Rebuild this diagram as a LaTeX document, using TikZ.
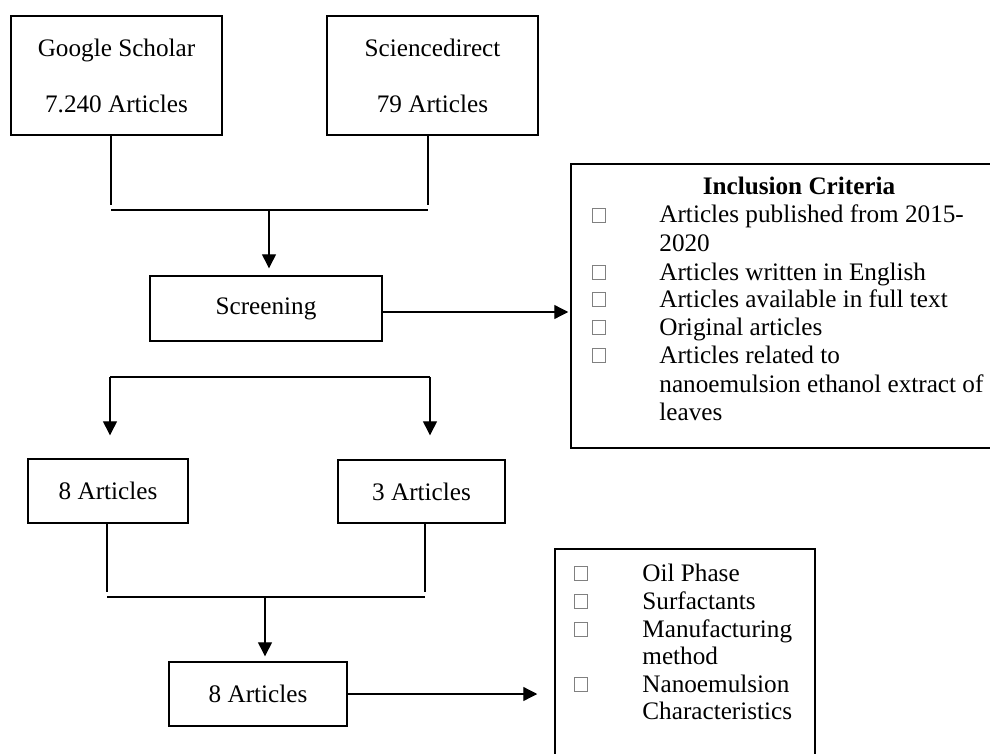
\documentclass[tikz,border=0pt]{standalone}
\usepackage{fontspec}
\setmainfont{Liberation Serif}
\usetikzlibrary{arrows.meta}
\begin{document}
\begin{tikzpicture}[x=0.5pt,y=-0.5pt,
  box/.style={draw, line width=0.7pt, inner sep=0pt, align=center, font=\fontsize{12.6pt}{14pt}\selectfont},
  frame/.style={draw, line width=0.75pt, inner sep=0pt},
  conn/.style={line width=0.65pt},
  arr/.style={conn, -{Triangle[width=7pt,length=7pt]}},
  bul/.style={draw=black!50, line width=0.35pt, inner sep=0pt, minimum width=6.5pt, minimum height=7pt, anchor=south west},
  txt/.style={inner sep=0pt, anchor=base west, font=\fontsize{12.6pt}{14pt}\selectfont}]
\useasboundingbox (0,0) rectangle (990,754);

% boxes
\node[box, minimum width=105.5pt, minimum height=59.5pt] (gs) at (116.5,75.5) {Google Scholar\\[14pt]7.240 Articles};
\node[box, minimum width=105.5pt, minimum height=59.5pt] (sd) at (432.5,75.5) {Sciencedirect\\[14pt]79 Articles};
\node[box, minimum width=116pt, minimum height=32.5pt] (scr) at (266,308.5) {Screening};
\node[box, minimum width=80pt, minimum height=32pt] (a8) at (108,491) {8 Articles};
\node[box, minimum width=83.5pt, minimum height=31.5pt] (a3) at (421.5,491.5) {3 Articles};
\node[box, minimum width=89pt, minimum height=32pt] (f8) at (258,694) {8 Articles};
\node[frame, minimum width=214pt, minimum height=142pt] (inc) at (785,306) {};
\node[frame, minimum width=130pt, minimum height=106pt] (ch) at (685,655) {};

% inclusion criteria text
\node[txt, anchor=base, font=\fontsize{12.6pt}{14pt}\selectfont\bfseries] (ttl) at (799,195) {Inclusion Criteria};
\node[txt] (i1) at (659,223) {Articles published from 2015-};
\node[txt] (i2) at (659,252) {2020};
\node[txt] (i3) at (659,280) {Articles written in English};
\node[txt] (i4) at (659,307) {Articles available in full text};
\node[txt] (i5) at (659,335) {Original articles};
\node[txt] (i6) at (659,363) {Articles related to};
\node[txt] (i7) at (659,392) {nanoemulsion ethanol extract of};
\node[txt] (i8) at (659,420) {leaves};
\node[bul] (ib1) at (592,223) {};
\node[bul] (ib2) at (592,280) {};
\node[bul] (ib3) at (592,307) {};
\node[bul] (ib4) at (592,335) {};
\node[bul] (ib5) at (592,363) {};

% characteristics text
\node[txt] (c1) at (642,581) {Oil Phase};
\node[txt] (c2) at (642,609) {Surfactants};
\node[txt] (c3) at (642,637) {Manufacturing};
\node[txt] (c4) at (642,664) {method};
\node[txt] (c5) at (642,692) {Nanoemulsion};
\node[txt] (c6) at (642,719) {Characteristics};
\node[bul] (cb1) at (574,581) {};
\node[bul] (cb2) at (574,609) {};
\node[bul] (cb3) at (574,637) {};
\node[bul] (cb4) at (574,692) {};

% top merge
\coordinate (gl) at (111,205);
\coordinate (sl) at (428,205);
\coordinate (h1l) at (111,210);
\coordinate (h1r) at (428,210);
\coordinate (h1m) at (269,210);
\draw[conn] (gl |- gs.south) -- (gl);
\draw[conn] (sl |- sd.south) -- (sl);
\draw[conn] (h1l) -- (h1r);
\draw[arr, shorten >=3.5pt] (h1m) -- (h1m |- scr.north);

% screening to criteria
\draw[arr, shorten >=1pt] ([yshift=-1.75pt]scr.east) -- ([yshift=-1.75pt]scr.east -| inc.west);

% split
\coordinate (b1) at (110,377);
\coordinate (b2) at (430,377);
\draw[conn] (b1) -- (b2);
\draw[arr, shorten >=11.5pt] (b1) -- (b1 |- a8.north);
\draw[arr, shorten >=12pt] (b2) -- (b2 |- a3.north);

% lower merge
\coordinate (dl) at (107,592);
\coordinate (dr) at (425,592);
\coordinate (el) at (107,597);
\coordinate (er) at (425,597);
\coordinate (em) at (265,597);
\draw[conn] (dl |- a8.south) -- (dl);
\draw[conn] (dr |- a3.south) -- (dr);
\draw[conn] (el) -- (er);
\draw[arr, shorten >=2.5pt] (em) -- (em |- f8.north);

% final to characteristics
\draw[arr, shorten >=8.5pt] (f8.east) -- (f8.east -| ch.west);
\end{tikzpicture}
\end{document}
